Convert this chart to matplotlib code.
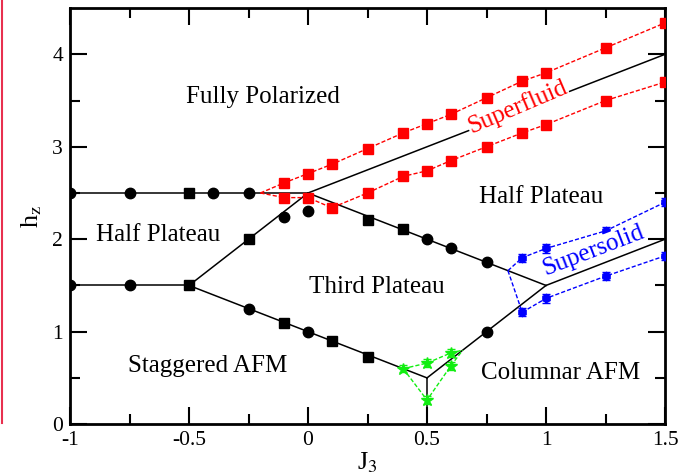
import matplotlib
matplotlib.use("Agg")
import matplotlib.pyplot as plt
from matplotlib.lines import Line2D

plt.rcParams["font.family"] = ["Liberation Serif", "DejaVu Serif"]
plt.rcParams["mathtext.fontset"] = "stix"

# ---- phase boundaries (solid black lines) ----
boundaries = [
    ([-1.0, 0.0], [2.5, 2.5]),
    ([-1.0, -0.5], [1.5, 1.5]),
    ([-0.5, 0.0], [1.5, 2.5]),
    ([-0.5, 0.5], [1.5, 0.5]),
    ([0.0, 1.0], [2.5, 1.5]),
    ([0.5, 1.0], [0.5, 1.5]),
    ([0.0, 1.5], [2.5, 4.0]),
    ([1.0, 1.5], [1.5, 2.0]),
    ([0.5, 0.5], [0.0, 0.5]),
]

# ---- numerical boundary points ----
circ_J = [-1.0, -0.75, -0.4, -0.25, -1.0, -0.75, -0.1, 0.0, 0.5, 0.6, 0.75,
          -0.25, 0.0, 0.75]
circ_h = [2.5, 2.5, 2.5, 2.5, 1.5, 1.5, 2.24, 2.30, 2.0, 1.9, 1.75,
          1.25, 1.0, 1.0]
sq_J = [-0.5, -0.5, -0.25, 0.25, 0.4, -0.1, 0.1, 0.25]
sq_h = [2.5, 1.5, 2.0, 2.21, 2.11, 1.09, 0.9, 0.73]

# superfluid region
sf_up_J = [-0.2, -0.1, 0.0, 0.1, 0.25, 0.4, 0.5, 0.6, 0.75, 0.9, 1.0, 1.25, 1.5]
sf_up_h = [2.5, 2.61, 2.71, 2.81, 2.98, 3.15, 3.25, 3.35, 3.53, 3.71, 3.8, 4.07, 4.34]
sf_lo_J = [-0.2, -0.1, 0.0, 0.1, 0.25, 0.4, 0.5, 0.6, 0.75, 0.9, 1.0, 1.25, 1.5]
sf_lo_h = [2.5, 2.45, 2.45, 2.34, 2.5, 2.68, 2.74, 2.85, 3.0, 3.15, 3.24, 3.5, 3.7]

# supersolid region
ss_up_J = [0.84, 0.9, 1.0, 1.25, 1.5]
ss_up_h = [1.66, 1.8, 1.9, 2.09, 2.4]
ss_side_J = [0.84, 0.9]
ss_side_h = [1.66, 1.21]
ss_lo_J = [0.9, 1.0, 1.25, 1.5]
ss_lo_h = [1.21, 1.36, 1.6, 1.82]

# region near J3 = 0.5
gr_up_J = [0.4, 0.5, 0.6, 0.65]
gr_up_h = [0.6, 0.66, 0.77, 0.8]
gr_lo_J = [0.4, 0.5, 0.6, 0.65]
gr_lo_h = [0.6, 0.26, 0.63, 0.8]

x_ticks = [-1, -0.5, 0, 0.5, 1, 1.5]
x_ticklabels = ["-1", "-0.5", "0", "0.5", "1", "1.5"]
y_ticks = [0, 1, 2, 3, 4]

phase_labels = [
    ("Fully Polarized", -0.19, 3.54),
    ("Half Plateau", -0.63, 2.05),
    ("Half Plateau", 0.98, 2.46),
    ("Third Plateau", 0.29, 1.48),
    ("Staggered AFM", -0.42, 0.63),
    ("Columnar AFM", 1.06, 0.55),
]

fig = plt.figure(figsize=(6.87, 4.76), dpi=100)
ax = fig.add_axes([0.1019, 0.109, 0.8661, 0.874])

for bj, bh in boundaries:
    ax.plot(bj, bh, color="black", lw=1.1, zorder=2)

red = "#ff0000"
dash = (0, (3, 1.5))
for J, h in ((sf_up_J, sf_up_h), (sf_lo_J, sf_lo_h)):
    ax.plot(J, h, color=red, lw=1.0, ls=dash, marker="s", ms=7,
            markevery=list(range(1, len(J))), zorder=3)

blue = "#0000ff"
ax.plot(ss_side_J, ss_side_h, color=blue, lw=1.0, ls=dash, zorder=3)
ax.plot(ss_up_J, ss_up_h, color=blue, lw=1.0, ls=dash, zorder=3)
ax.plot(ss_lo_J, ss_lo_h, color=blue, lw=1.0, ls=dash, zorder=3)
ax.errorbar(ss_up_J[1:], ss_up_h[1:], yerr=0.045, fmt="h", color=blue, ms=6,
            capsize=3, elinewidth=1.2, zorder=4)
ax.errorbar(ss_lo_J, ss_lo_h, yerr=0.045, fmt="h", color=blue, ms=6,
            capsize=3, elinewidth=1.2, zorder=4)

green = "#11ee11"
ax.plot(gr_up_J, gr_up_h, color=green, lw=1.0, ls=dash, zorder=3)
ax.plot(gr_lo_J, gr_lo_h, color=green, lw=1.0, ls=dash, zorder=3)
ax.errorbar(gr_up_J[:3], gr_up_h[:3], yerr=0.04, fmt="*", color=green, ms=9,
            capsize=3, elinewidth=1.2, zorder=4)
ax.errorbar(gr_lo_J[1:3], gr_lo_h[1:3], yerr=0.04, fmt="*", color=green, ms=9,
            capsize=3, elinewidth=1.2, zorder=4)

ax.plot(circ_J, circ_h, "o", color="black", ms=7.5, zorder=5)
ax.plot(sq_J, sq_h, "s", color="black", ms=7, zorder=5)

for txt, x, y in phase_labels:
    ax.text(x, y, txt, ha="center", va="center", fontsize=18, color="black",
            zorder=6)

ax.text(0.88, 3.43, "Superfluid", ha="center", va="center", fontsize=18,
        color=red, rotation=23, zorder=6,
        bbox=dict(facecolor="white", edgecolor="none", pad=0.3))
ax.text(1.2, 1.88, "Supersolid", ha="center", va="center", fontsize=18,
        color=blue, rotation=21, zorder=6,
        bbox=dict(facecolor="white", edgecolor="none", pad=0.3))

ax.set_xlim(-1, 1.5)
ax.set_ylim(0, 4.5)
ax.set_xticks(x_ticks)
ax.set_xticklabels(x_ticklabels)
ax.set_yticks(y_ticks)
ax.set_xticks([-0.75, -0.25, 0.25, 0.75, 1.25], minor=True)
ax.set_yticks([0.5, 1.5, 2.5, 3.5], minor=True)
ax.tick_params(which="both", direction="in", top=True, right=True,
               labelsize=15.5, width=1.5)
ax.tick_params(which="major", length=12, pad=5)
ax.tick_params(which="minor", length=7)
for s in ax.spines.values():
    s.set_linewidth(2)

ax.set_xlabel(r"J$_3$", fontsize=19, labelpad=0)
ax.set_ylabel(r"h$_\mathrm{z}$", fontsize=19, labelpad=6)

fig.add_artist(Line2D([0.003, 0.003], [1.0, 1 - 423 / 476],
                      transform=fig.transFigure, color="#e8304f", lw=1.5))

fig.savefig("out.png", dpi=100)
